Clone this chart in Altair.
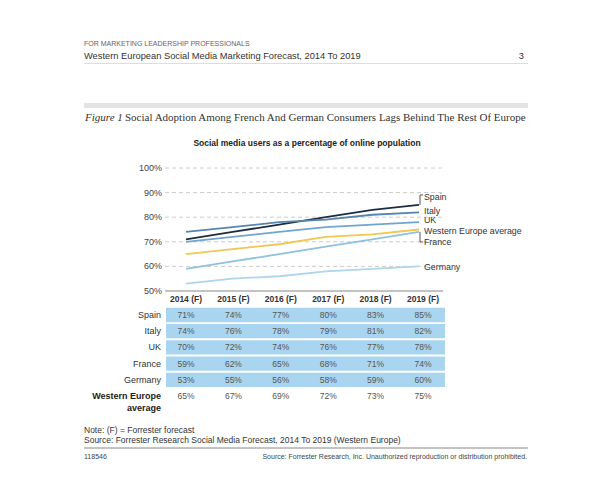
import altair as alt
import pandas as pd

# ---------------- data ----------------
years = [2014, 2015, 2016, 2017, 2018, 2019]
year_labels = ["2014 (F)", "2015 (F)", "2016 (F)", "2017 (F)", "2018 (F)", "2019 (F)"]
series = ["Spain", "Italy", "UK", "France", "Germany", "Western Europe average"]
spain = [71, 74, 77, 80, 83, 85]
italy = [74, 76, 78, 79, 81, 82]
uk = [70, 72, 74, 76, 77, 78]
france = [59, 62, 65, 68, 71, 74]
germany = [53, 55, 56, 58, 59, 60]
we_avg = [65, 67, 69, 72, 73, 75]
y_ticks = [50, 60, 70, 80, 90, 100]
y_tick_labels = ["50%", "60%", "70%", "80%", "90%", "100%"]
table_rows = ["Spain", "Italy", "UK", "France", "Germany"]

values_by_series = [spain, italy, uk, france, germany, we_avg]

# ---------------- styling / layout ----------------
colors = ["#1e2d3e", "#5686b0", "#6fa5cf", "#8fc0df", "#afd5ec", "#eec852"]
label_dy = {"Spain": -8, "Italy": -1, "UK": -2, "Western Europe average": 1,
            "France": 10, "Germany": 1}
SANS = "Liberation Sans"
SERIF = "Liberation Serif"

rows = []
for s, vals in zip(series, values_by_series):
    for yr, v in zip(years, vals):
        rows.append({"series": s, "year": yr, "value": v})
df = pd.DataFrame(rows)

ticks_df = pd.DataFrame({"v": y_ticks, "lab": y_tick_labels})

x_scale = alt.Scale(domain=[2014, 2019], range=[178, 411])
y_scale = alt.Scale(domain=[50, 100], range=[283, 160])
color_scale = alt.Scale(domain=series, range=colors)

tbl_rows_all = ["hdr"] + table_rows + ["Western Europe average"]
tbl_x = alt.Scale(domain=[2014, 2019], range=[178, 415])
tbl_y_band = alt.Scale(type="band", domain=tbl_rows_all, range=[282.7, 396.1],
                       paddingInner=0.12, paddingOuter=0.06)
tbl_y_point = alt.Scale(type="point", domain=tbl_rows_all, range=[282.7, 396.1],
                        padding=0.5)


def txt(s, x, y, size=9, color="#333", weight="normal", style="normal",
        font=SANS, align="left", baseline="middle"):
    return alt.Chart(alt.Data(values=[{"t": s}])).mark_text(
        fontSize=size, color=color, fontWeight=weight, fontStyle=style,
        font=font, align=align, baseline=baseline
    ).encode(x=alt.value(x), y=alt.value(y), text="t:N")


def hrule(x1, x2, y, color, width=1.0):
    return alt.Chart(alt.Data(values=[{}])).mark_rule(
        color=color, strokeWidth=width
    ).encode(x=alt.value(x1), x2=alt.value(x2), y=alt.value(y))


layers = []

# page header
layers.append(txt("FOR MARKETING LEADERSHIP PROFESSIONALS", 76, 36, size=7, color="#666"))
layers.append(txt("Western European Social Media Marketing Forecast, 2014 To 2019", 76, 48,
                  size=9.3, color="#333"))
layers.append(txt("3", 516, 48, size=9.3, color="#333", align="right"))
layers.append(hrule(76, 520, 55.5, "#dddddd"))
layers.append(alt.Chart(alt.Data(values=[{}])).mark_rect(color="#e4e4e4").encode(
    x=alt.value(76), x2=alt.value(520), y=alt.value(95), y2=alt.value(100)))

# figure title
layers.append(txt("Figure 1", 77, 113, size=11, color="#333", style="italic", font=SERIF,
                  baseline="alphabetic"))
layers.append(txt("Social Adoption Among French And German Consumers Lags Behind The Rest Of Europe",
                  117, 113, size=11, color="#333", font=SERIF, baseline="alphabetic"))
layers.append(txt("Social media users as a percentage of online population", 299, 135,
                  size=8.5, color="#222", weight="bold", align="center"))

# gridlines
base_ticks = alt.Chart(ticks_df)
layers.append(base_ticks.transform_filter("datum.v > 50").mark_rule(
    color="#cccccc", strokeDash=[4, 3], strokeWidth=1).encode(
    y=alt.Y("v:Q", scale=y_scale, axis=None), x=alt.value(157), x2=alt.value(435)))
layers.append(base_ticks.transform_filter("datum.v == 50").mark_rule(
    color="#888888", strokeWidth=1.2).encode(
    y=alt.Y("v:Q", scale=y_scale, axis=None), x=alt.value(157), x2=alt.value(435)))
layers.append(base_ticks.mark_text(align="right", baseline="middle", fontSize=9,
                                   font=SANS, color="#444").encode(
    y=alt.Y("v:Q", scale=y_scale, axis=None), x=alt.value(154), text="lab:N"))

# lines
layers.append(alt.Chart(df).mark_line(strokeWidth=1.8).encode(
    x=alt.X("year:Q", scale=x_scale, axis=None),
    y=alt.Y("value:Q", scale=y_scale, axis=None),
    color=alt.Color("series:N", scale=color_scale, legend=None),
    order=alt.Order("year:Q")))

# line labels
last = alt.Chart(df).transform_filter("datum.year == 2019")
for s in series:
    layers.append(last.transform_filter(alt.datum.series == s).mark_text(
        align="left", baseline="middle", fontSize=8.8, font=SANS, color="#333",
        dy=label_dy[s]).encode(
        y=alt.Y("value:Q", scale=y_scale, axis=None), x=alt.value(416), text="series:N"))

# brackets to Spain and France labels
layers.append(last.transform_filter(alt.datum.series == "Spain").mark_rule(
    color="#555", strokeWidth=1).encode(
    y=alt.Y("value:Q", scale=y_scale, axis=None), y2=alt.value(187), x=alt.value(412)))
layers.append(hrule(412, 415, 187, "#555"))
layers.append(last.transform_filter(alt.datum.series == "France").mark_rule(
    color="#555", strokeWidth=1).encode(
    y=alt.Y("value:Q", scale=y_scale, axis=None), y2=alt.value(234), x=alt.value(412)))
layers.append(hrule(412, 415, 234, "#555"))

# table background rows
layers.append(alt.Chart(df).transform_filter(alt.datum.year == 2014).transform_filter(
    "datum.series != 'Western Europe average'").mark_rect(color="#a9d5f0").encode(
    y=alt.Y("series:N", scale=tbl_y_band, axis=None), x=alt.value(158), x2=alt.value(437)))

# table values
df_tbl = df.copy()
df_tbl["lab"] = df_tbl["value"].astype(str) + "%"
layers.append(alt.Chart(df_tbl).mark_text(fontSize=8.5, font=SANS, color="#555",
                                          baseline="middle").encode(
    x=alt.X("year:Q", scale=tbl_x, axis=None),
    y=alt.Y("series:N", scale=tbl_y_point, axis=None), text="lab:N"))

# table header
hdr_df = pd.DataFrame({"year": years, "lab": year_labels, "row": ["hdr"] * len(years)})
layers.append(alt.Chart(hdr_df).mark_text(fontSize=8.5, font=SANS, color="#333",
                                          fontWeight="bold", baseline="middle").encode(
    x=alt.X("year:Q", scale=tbl_x, axis=None),
    y=alt.Y("row:N", scale=tbl_y_point, axis=None), text="lab:N"))

# row labels
rl_df = pd.DataFrame({"row": table_rows})
layers.append(alt.Chart(rl_df).mark_text(fontSize=9, font=SANS, color="#333",
                                         align="right", baseline="middle").encode(
    y=alt.Y("row:N", scale=tbl_y_point, axis=None), x=alt.value(153), text="row:N"))
we_df = pd.DataFrame({"row": ["Western Europe average"], "l1": ["Western Europe"],
                      "l2": ["average"]})
layers.append(alt.Chart(we_df).mark_text(fontSize=9, font=SANS, color="#222", fontWeight="bold",
                                         align="right", baseline="middle").encode(
    y=alt.Y("row:N", scale=tbl_y_point, axis=None), x=alt.value(153), text="l1:N"))
layers.append(alt.Chart(we_df).mark_text(fontSize=9, font=SANS, color="#222", fontWeight="bold",
                                         align="right", baseline="middle", dy=12).encode(
    y=alt.Y("row:N", scale=tbl_y_point, axis=None), x=alt.value(153), text="l2:N"))

# footer
layers.append(txt("Note: (F) = Forrester forecast", 76, 422, size=8.5, color="#333"))
layers.append(txt("Source: Forrester Research Social Media Forecast, 2014 To 2019 (Western Europe)",
                  76, 432, size=8.5, color="#333"))
layers.append(hrule(76, 520, 440, "#888888"))
layers.append(txt("118546", 76, 449, size=7, color="#444"))
layers.append(txt("Source: Forrester Research, Inc. Unauthorized reproduction or distribution prohibited.",
                  519, 449, size=7, color="#444", align="right"))

chart = alt.layer(*layers).resolve_scale(
    x="independent", y="independent", color="independent"
).properties(
    width=584, height=466, autosize=alt.AutoSizeParams(type="none"), padding=0,
    background="white"
).configure_view(stroke=None)

chart.save("out.html", embed_options={"renderer": "svg", "actions": False})
